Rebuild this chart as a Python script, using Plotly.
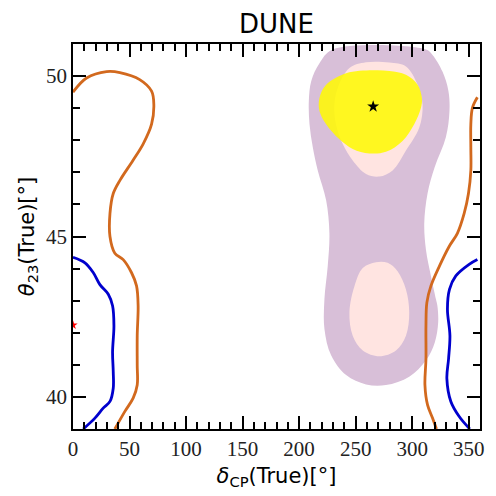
import plotly.graph_objects as go

# ---------------- data ----------------
x_ticks = [0, 50, 100, 150, 200, 250, 300, 350]
y_ticks = [40, 45, 50]
x_range = [0, 360]
y_range = [39, 51]

purple_x = [229.7, 218, 210.7, 208.6, 209.2, 212.1, 216.5, 223.9, 226.8, 225.3, 222.4, 222.4, 228.3,
            241.6, 259.2, 276.8, 297.4, 312.2, 320, 323, 322.3, 321, 316.6, 312.2, 310.7, 313.6,
            319.9, 329.8, 333, 332.1, 326.8, 318, 312.2, 229.7]
purple_y = [50.83, 50.4, 49.84, 49.22, 48.5, 47.78, 47.06, 46.13, 45.1, 44.07, 43.05, 42.12, 41.3,
            40.68, 40.39, 40.37, 40.63, 41.14, 41.7, 42.32, 42.84, 43.05, 43.77, 44.59, 45.41, 46.34,
            47.16, 48.09, 48.91, 49.53, 50.14, 50.66, 50.83, 50.83]

pink_up_x = [259.2, 244.5, 234.2, 231.2, 232.6, 238.6, 247.4, 259.2, 271, 282.7, 294.5, 306.3,
             309.2, 304.8, 294.5, 279.8, 259.2]
pink_up_y = [50.43, 50.25, 49.63, 49.11, 48.5, 47.88, 47.37, 46.95, 46.87, 47.06, 47.68, 48.4,
             49.11, 49.73, 50.3, 50.42, 50.43]

pink_lo_x = [268, 256.3, 249, 244.5, 247.4, 256.3, 271, 285.7, 294.5, 297.4, 294.5, 287.1, 278.3, 268]
pink_lo_y = [44.2, 44.02, 43.46, 42.63, 41.91, 41.45, 41.27, 41.45, 41.91, 42.63, 43.35, 43.92, 44.18, 44.2]

yellow_x = [265, 241.6, 223.9, 218, 218, 223.9, 235.7, 247.4, 262.1, 276.8, 291.5, 301.8, 307.8,
            308.6, 304.8, 294.5, 279.8, 265]
yellow_y = [50.18, 50.09, 49.73, 49.32, 48.91, 48.5, 48.03, 47.73, 47.59, 47.64, 47.98, 48.5, 49.01,
            49.32, 49.73, 50.04, 50.16, 50.18]

orange_left_x = [0, 12, 29.7, 41.5, 59, 69.5, 71.5, 69.5, 62, 53, 41.5, 35.6, 32.7, 32.7, 37, 44.4,
                 51.8, 56.2, 57.6, 56.8, 56.8, 56.8, 53.2, 45.9, 37]
orange_left_y = [49.5, 49.94, 50.14, 50.11, 49.89, 49.53, 49.11, 48.5, 47.88, 47.37, 46.75, 46.34,
                 45.72, 45.0, 44.48, 44.28, 43.87, 43.46, 42.84, 41.91, 40.99, 40.37, 39.96, 39.55, 39.0]

blue_left_x = [0, 10.6, 18, 23.8, 31.2, 35, 36.2, 35, 35.6, 35.6, 32.7, 26.7, 19.4, 9]
blue_left_y = [44.35, 44.18, 43.87, 43.5, 43.2, 42.84, 42.22, 41.4, 40.78, 40.27, 39.86, 39.65, 39.34, 39.0]

orange_right_x = [357.7, 353.3, 351.9, 351.9, 351.9, 349.8, 346, 340, 332.7, 324, 316.6, 313, 312.2,
                  312.2, 311.3, 313.6, 318, 321.5]
orange_right_y = [49.34, 49.01, 48.5, 47.78, 47.06, 46.34, 45.72, 45.1, 44.69, 44.07, 43.46, 42.94,
                  42.22, 41.19, 40.37, 39.75, 39.34, 39.0]

blue_right_x = [357.7, 350.4, 338.6, 333, 331.2, 333.4, 332.2, 330.7, 334.2, 341.6, 351]
blue_right_y = [44.28, 44.13, 43.77, 43.35, 42.74, 41.91, 41.19, 40.57, 39.86, 39.39, 39.0]

best_fit = (265.5, 49.05)
true_point = (0, 42.24)

# ---------------- figure ----------------
SERIF = "Liberation Serif"
SANS = "DejaVu Sans"

fig = go.Figure()

def region(x, y, color):
    fig.add_trace(go.Scatter(x=x, y=y, mode="lines", fill="toself", fillcolor=color,
                             line=dict(width=0, color=color, shape="spline", smoothing=1.0),
                             hoverinfo="skip", showlegend=False))

region(purple_x, purple_y, "#D8BFD8")
region(pink_up_x, pink_up_y, "#FFE4E1")
region(pink_lo_x, pink_lo_y, "#FFE4E1")
region(yellow_x, yellow_y, "rgba(255,250,0,0.86)")

def curve(x, y, color):
    fig.add_trace(go.Scatter(x=x, y=y, mode="lines",
                             line=dict(width=2.8, color=color, shape="spline", smoothing=1.0),
                             hoverinfo="skip", showlegend=False))

curve(orange_left_x, orange_left_y, "#D2691E")
curve(orange_right_x, orange_right_y, "#D2691E")
curve(blue_left_x, blue_left_y, "#0000CD")
curve(blue_right_x, blue_right_y, "#0000CD")

fig.add_trace(go.Scatter(x=[best_fit[0]], y=[best_fit[1]], mode="markers",
                         marker=dict(symbol="star", size=9, color="black"),
                         showlegend=False, hoverinfo="skip"))
fig.add_trace(go.Scatter(x=[true_point[0]], y=[true_point[1]], mode="markers",
                         marker=dict(symbol="star", size=7, color="red"),
                         showlegend=False, hoverinfo="skip"))

fig.update_xaxes(range=x_range, tickmode="linear", tick0=x_ticks[0], dtick=x_ticks[1] - x_ticks[0],
                 ticks="inside", ticklen=13, tickwidth=2, tickcolor="black",
                 showline=True, linecolor="black", linewidth=1.6, mirror="allticks",
                 showgrid=False, zeroline=False,
                 minor=dict(dtick=10, ticks="inside", ticklen=7, tickcolor="black"),
                 tickfont=dict(family=SERIF, size=21, color="#222"),
                 title=dict(text="<i>δ</i><sub>CP</sub>(True)[°]",
                            font=dict(family=SANS, size=21, color="black"), standoff=8))
fig.update_yaxes(range=y_range, tickmode="linear", tick0=y_ticks[0], dtick=y_ticks[1] - y_ticks[0],
                 ticks="inside", ticklen=13, tickwidth=2, tickcolor="black",
                 showline=True, linecolor="black", linewidth=1.6, mirror="allticks",
                 showgrid=False, zeroline=False,
                 minor=dict(dtick=1, ticks="inside", ticklen=7, tickcolor="black"),
                 tickfont=dict(family=SERIF, size=21, color="#222"),
                 title=dict(text="<i>θ</i><sub>23</sub>(True)[°]",
                            font=dict(family=SANS, size=21, color="black"), standoff=6))

# the page puts the figure 8px in from the top-left corner
fig.update_layout(
    width=488, height=488,
    margin=dict(l=65, r=15, t=36, b=63),
    paper_bgcolor="white", plot_bgcolor="white",
    title=dict(text="DUNE", x=0.5, xref="paper", xanchor="center",
               y=1 - 16 / 488, yref="container", yanchor="middle",
               font=dict(family=SANS, size=26, color="black")),
)

fig.write_html("out.html")
